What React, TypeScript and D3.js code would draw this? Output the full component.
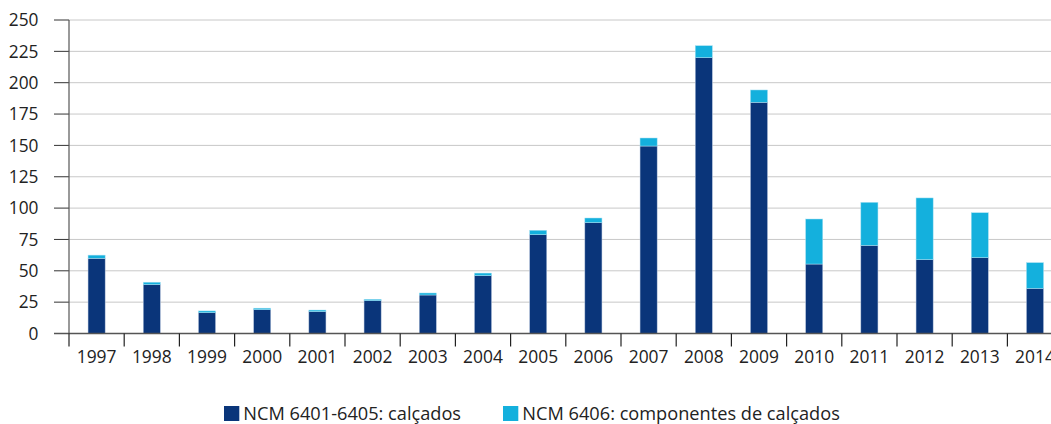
import React from "react";
import * as d3 from "d3";

const years = ["1997","1998","1999","2000","2001","2002","2003","2004","2005","2006","2007","2008","2009","2010","2011","2012","2013","2014"];
const calcados = [60, 39, 16.6, 19, 17.5, 26.2, 30.7, 46.1, 78.8, 88.4, 149.5, 220, 184.4, 55.4, 70.3, 58.9, 60.5, 36];
const componentes = [2.5, 1.9, 1.4, 1.2, 1.2, 1.1, 1.6, 2.1, 3.5, 3.7, 6.4, 9.5, 9.8, 35.9, 34.3, 49.2, 35.8, 20.5];
const yTicks = [0, 25, 50, 75, 100, 125, 150, 175, 200, 225, 250];
const seriesNames = ["NCM 6401-6405: calçados", "NCM 6406: componentes de calçados"];
const colors = ["#0a357a", "#14b0dd"];

export default function App() {
  const W = 1051, H = 424;
  const x0 = 69, step = 55.2;
  const x = d3.scaleBand<string>().domain(years).range([x0, x0 + step * years.length]).paddingInner(0.69).paddingOuter(0.345);
  const y = d3.scaleLinear().domain([0, 250]).range([333.5, 20]);
  const font = "'Open Sans', 'Noto Sans', sans-serif";
  const stacked = years.map((yr, i) => ({ yr, a: calcados[i], b: componentes[i] }));
  const legendX = [224, 503];
  return (
    <svg width={W} height={H} style={{ position: "absolute", left: 0, top: 0 }} fontFamily={font}>
      {yTicks.map((t) => (
        <g key={t}>
          {t > 0 && <line x1={x0} x2={W} y1={y(t)} y2={y(t)} stroke="#c8c8c8" strokeWidth={1} />}
          <line x1={54} x2={x0} y1={y(t)} y2={y(t)} stroke="#333" strokeWidth={1} />
          <text x={38.5} y={y(t) + 6.2} textAnchor="end" fontSize={17.3} fill="#222">{t}</text>
        </g>
      ))}
      {stacked.map((d) => (
        <g key={d.yr}>
          <rect x={x(d.yr)} width={x.bandwidth()} y={y(d.a)} height={y(0) - y(d.a)} fill={colors[0]} stroke="#b9c8e0" strokeWidth={0.5} />
          <rect x={x(d.yr)} width={x.bandwidth()} y={y(d.a + d.b)} height={y(d.a) - y(d.a + d.b)} fill={colors[1]} stroke="#a8e0f2" strokeWidth={0.5} />
        </g>
      ))}
      <line x1={x0} x2={x0} y1={y(250)} y2={y(0)} stroke="#555" strokeWidth={1.2} />
      <line x1={54} x2={W} y1={y(0)} y2={y(0)} stroke="#555" strokeWidth={1.5} />
      {years.map((yr, i) => (
        <g key={yr}>
          <line x1={x0 + i * step} x2={x0 + i * step} y1={y(0)} y2={y(0) + 13} stroke="#222" strokeWidth={1.2} />
          <text x={(x(yr) as number) + x.bandwidth() / 2} y={363.3} textAnchor="middle" fontSize={17.4} fill="#222">{yr}</text>
        </g>
      ))}
      {seriesNames.map((s, i) => {
        const lx = legendX[i];
        return (
          <g key={s}>
            <rect x={lx} y={406} width={15.3} height={15} fill={colors[i]} />
            <text x={lx + 19.3} y={419.6} fontSize={18.2} fill="#222">{s}</text>
          </g>
        );
      })}
    </svg>
  );
}
